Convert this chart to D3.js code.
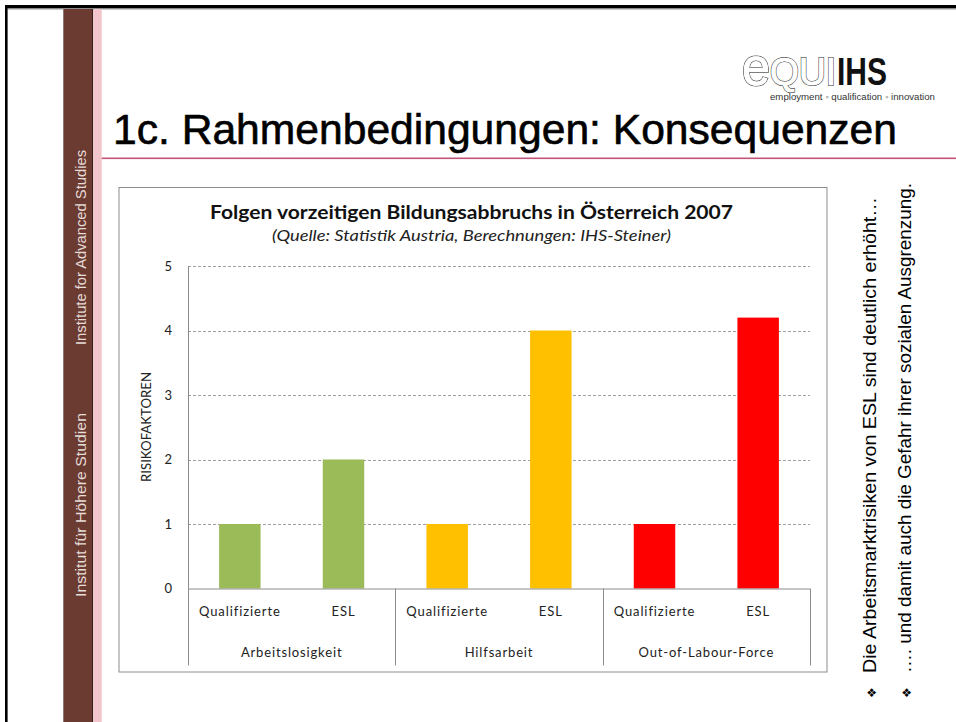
<!DOCTYPE html>
<html>
<head>
<meta charset="utf-8">
<script src="https://cdn.jsdelivr.net/npm/d3@7"></script>
<style>
  html, body { margin: 0; padding: 0; background: #fff; }
  svg { display: block; }
</style>
</head>
<body>
<svg id="c" width="956" height="722"></svg>
<script>
// ---------- data ----------
const groups = ["Arbeitslosigkeit", "Hilfsarbeit", "Out-of-Labour-Force"];
const categories = ["Qualifizierte", "ESL"];
const arbeitslosigkeit = [1, 2];
const hilfsarbeit = [1, 4];
const outOfLabourForce = [1, 4.2];
const groupColors = ["#9BBB59", "#FFC000", "#FF0000"];
const yTicks = [0, 1, 2, 3, 4, 5];
const slideTitle = "1c. Rahmenbedingungen: Konsequenzen";
const chartTitle = "Folgen vorzeitigen Bildungsabbruchs in Österreich 2007";
const chartSubtitle = "(Quelle: Statistik Austria, Berechnungen: IHS-Steiner)";
const yTitle = "RISIKOFAKTOREN";
const bullets = [
  "Die Arbeitsmarktrisiken von ESL sind deutlich erhöht…",
  "…. und damit auch die Gefahr ihrer sozialen Ausgrenzung."
];
const sideTexts = ["Institute for Advanced Studies", "Institut für Höhere Studien"];

const seriesValues = [arbeitslosigkeit, hilfsarbeit, outOfLabourForce];
const rows = [];
groups.forEach((g, gi) => categories.forEach((c, ci) => {
  rows.push({ key: g + "|" + c, group: g, gi, cat: c, value: seriesValues[gi][ci] });
}));

const svg = d3.select("#c");
const ARIAL = "'Liberation Sans', Arial, sans-serif";
const CAL = "Lato, Carlito, Calibri, sans-serif";

// ---------- slide frame ----------
svg.append("rect").attr("x", 5).attr("y", 5).attr("width", 960).attr("height", 3.5).attr("fill", "#000");
svg.append("rect").attr("x", 8).attr("y", 8.5).attr("width", 960).attr("height", 1).attr("fill", "#999");
svg.append("rect").attr("x", 5).attr("y", 5).attr("width", 2.6).attr("height", 730).attr("fill", "#000");
svg.append("rect").attr("x", 63).attr("y", 9).attr("width", 30).attr("height", 720).attr("fill", "#6B3B31");
svg.append("rect").attr("x", 63).attr("y", 9).attr("width", 0.8).attr("height", 720).attr("fill", "#9a8a86");
svg.append("rect").attr("x", 92).attr("y", 9).attr("width", 1.2).attr("height", 720).attr("fill", "#3a1f18");
svg.append("rect").attr("x", 93.2).attr("y", 9).attr("width", 8.5).attr("height", 720).attr("fill", "#F2C4CB");

sideTexts.forEach((t, i) => {
  svg.append("text")
    .attr("transform", `translate(85.5,${[345, 597][i]}) rotate(-90)`)
    .attr("font-family", ARIAL).attr("font-size", 14.3)
    .attr("textLength", [195, 184][i]).attr("lengthAdjust", "spacingAndGlyphs")
    .attr("fill", "#e6dcd9").text(t);
});

// title + rule
svg.append("text").attr("x", 113).attr("y", 144)
  .attr("font-family", ARIAL).attr("font-size", 42).attr("fill", "#000")
  .attr("stroke", "#000").attr("stroke-width", 0.6)
  .attr("textLength", 784).attr("lengthAdjust", "spacingAndGlyphs")
  .text(slideTitle);
svg.append("rect").attr("x", 101.7).attr("y", 157.5).attr("width", 860).attr("height", 1.6).attr("fill", "#C25479");

// logo
const logo = svg.append("g");
[["#555", 2.2], ["#fff", 0.7]].forEach(([col, sw]) => {
  const eq = logo.append("text").attr("x", 742).attr("y", 85)
    .attr("font-family", ARIAL).attr("fill", "#fff")
    .attr("stroke", col).attr("stroke-width", sw).attr("paint-order", "stroke")
    .attr("textLength", 94).attr("lengthAdjust", "spacingAndGlyphs");
  eq.append("tspan").attr("font-size", 53).text("e");
  eq.append("tspan").attr("font-size", 39).text("QUI");
});
logo.append("text").attr("x", 837).attr("y", 85)
  .attr("font-family", ARIAL).attr("font-weight", "bold").attr("font-size", 39)
  .attr("fill", "#111").attr("textLength", 50).attr("lengthAdjust", "spacingAndGlyphs")
  .text("IHS");
const tag = logo.append("text").attr("x", 770).attr("y", 100)
  .attr("font-family", ARIAL).attr("font-size", 9).attr("fill", "#333")
  .attr("textLength", 165).attr("lengthAdjust", "spacingAndGlyphs");
tag.append("tspan").text("employment ");
tag.append("tspan").attr("fill", "#bbb").text("▪");
tag.append("tspan").text(" qualification ");
tag.append("tspan").attr("fill", "#bbb").text("▪");
tag.append("tspan").text(" innovation");

// ---------- chart ----------
svg.append("rect").attr("x", 119).attr("y", 187.5).attr("width", 708).attr("height", 484.5)
  .attr("fill", "#fff").attr("stroke", "#8c8c8c").attr("stroke-width", 1);

const plot = { left: 188, right: 810, top: 266, bottom: 588.5 };
const x = d3.scaleBand().domain(rows.map(r => r.key))
  .range([plot.left, plot.right]).paddingInner(0.6).paddingOuter(0.3);
const y = d3.scaleLinear().domain([0, 5]).range([plot.bottom, plot.top]);

// grid
svg.append("g").selectAll("line").data(yTicks.filter(t => t > 0)).join("line")
  .attr("x1", plot.left).attr("x2", plot.right)
  .attr("y1", d => Math.round(y(d)) + 0.5).attr("y2", d => Math.round(y(d)) + 0.5)
  .attr("stroke", "#a0a0a0").attr("stroke-width", 1).attr("stroke-dasharray", "3,2");

// y axis
const yAxis = svg.append("g").attr("transform", `translate(${plot.left},0)`)
  .call(d3.axisLeft(y).tickValues(yTicks).tickSize(0).tickPadding(16).tickFormat(d3.format("d")));
yAxis.select(".domain").remove();
yAxis.selectAll("text").attr("font-family", CAL).attr("font-size", 13).attr("fill", "#222");
svg.append("line").attr("x1", plot.left + 0.5).attr("x2", plot.left + 0.5)
  .attr("y1", plot.top).attr("y2", plot.bottom).attr("stroke", "#8c8c8c");

svg.append("text").attr("transform", `translate(151,427) rotate(-90)`)
  .attr("text-anchor", "middle").attr("font-family", CAL).attr("font-size", 13)
  .attr("textLength", 110).attr("lengthAdjust", "spacingAndGlyphs")
  .attr("fill", "#222").text(yTitle);

// bars
svg.append("g").selectAll("rect").data(rows).join("rect")
  .attr("x", d => x(d.key)).attr("width", x.bandwidth())
  .attr("y", d => y(d.value)).attr("height", d => y(0) - y(d.value))
  .attr("fill", d => groupColors[d.gi]);

// category axis
svg.append("line").attr("x1", plot.left).attr("x2", plot.right)
  .attr("y1", plot.bottom + 0.5).attr("y2", plot.bottom + 0.5).attr("stroke", "#8c8c8c");
const groupScale = d3.scaleBand().domain(groups).range([plot.left, plot.right]);
const dividers = [plot.left].concat(groups.map(g => groupScale(g) + groupScale.bandwidth()));
svg.append("g").selectAll("line").data(dividers).join("line")
  .attr("x1", d => Math.round(d) + 0.5).attr("x2", d => Math.round(d) + 0.5)
  .attr("y1", plot.bottom).attr("y2", 665.5).attr("stroke", "#8c8c8c");

const xAxis = svg.append("g").attr("transform", `translate(0,${plot.bottom})`)
  .call(d3.axisBottom(x).tickSize(0).tickPadding(18).tickFormat(k => k.split("|")[1]));
xAxis.select(".domain").remove();
xAxis.selectAll("text").attr("font-family", CAL).attr("font-size", 13).attr("fill", "#222")
  .attr("letter-spacing", 0.9);

svg.append("g").selectAll("text").data(groups).join("text")
  .attr("x", g => groupScale(g) + groupScale.bandwidth() / 2).attr("y", 657)
  .attr("text-anchor", "middle").attr("font-family", CAL).attr("font-size", 13)
  .attr("letter-spacing", 0.85)
  .attr("fill", "#222").text(g => g);

// chart titles
svg.append("text").attr("x", 471.5).attr("y", 219).attr("text-anchor", "middle")
  .attr("font-family", CAL).attr("font-weight", "bold").attr("font-size", 19.5)
  .attr("textLength", 523).attr("lengthAdjust", "spacingAndGlyphs")
  .attr("fill", "#111").text(chartTitle);
svg.append("text").attr("x", 471.5).attr("y", 241).attr("text-anchor", "middle")
  .attr("font-family", CAL).attr("font-style", "italic").attr("font-size", 15.5)
  .attr("textLength", 399).attr("lengthAdjust", "spacingAndGlyphs")
  .attr("fill", "#222").text(chartSubtitle);

// ---------- right bullets ----------
bullets.forEach((t, i) => {
  const bx = [876, 911][i];
  svg.append("text").attr("transform", `translate(${bx},698) rotate(-90)`)
    .attr("font-family", "'DejaVu Sans', sans-serif").attr("font-size", 12).attr("fill", "#000").text("❖");
  svg.append("text").attr("transform", `translate(${bx},673) rotate(-90)`)
    .attr("font-family", ARIAL).attr("font-size", 18.5)
    .attr("textLength", [476, 490][i]).attr("lengthAdjust", "spacingAndGlyphs")
    .attr("fill", "#000").text(t);
});
</script>
</body>
</html>
